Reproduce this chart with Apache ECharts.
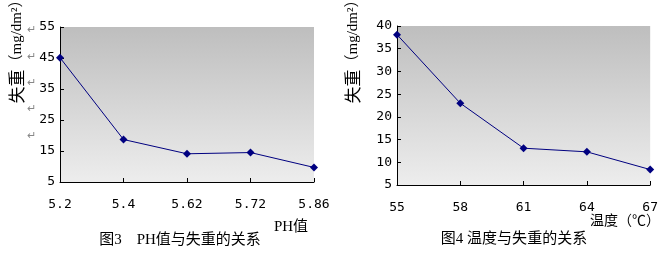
<!DOCTYPE html>
<html>
<head>
<meta charset="utf-8">
<script src="https://cdn.jsdelivr.net/npm/echarts@6/dist/echarts.min.js"></script>
<style>
html,body{margin:0;padding:0;background:#fff;}
#main{width:661px;height:253px;}
</style>
</head>
<body>
<div id="main"></div>
<script>
// Chart 1: PH vs weight loss
const phCategories = ['5.2', '5.4', '5.62', '5.72', '5.86'];
const phLoss = [45.1, 18.7, 14.1, 14.5, 9.7];
// Chart 2: temperature vs weight loss
const tempCategories = ['55', '58', '61', '64', '67'];
const tempLoss = [38.1, 23.0, 13.1, 12.3, 8.4];

const FONT = "'Liberation Serif','Noto Sans CJK SC',serif";
const NUM = "'DejaVu Sans Mono',monospace";
const CJK = "'Noto Sans CJK SC',sans-serif";

const chart = echarts.init(document.getElementById('main'));

function bg() {
  return new echarts.graphic.LinearGradient(0, 0, 0, 1, [
    {offset: 0, color: '#bebebe'},
    {offset: 1, color: '#ededed'}
  ]);
}

function xAxis(idx, cats) {
  return {
    type: 'category', gridIndex: idx, data: cats, boundaryGap: false,
    axisLine: {lineStyle: {color: '#000', width: 1}},
    axisTick: {inside: true, length: 4, lineStyle: {color: '#000'}},
    axisLabel: {color: '#000', fontFamily: NUM, fontSize: 13, margin: 16}
  };
}
function yAxis(idx, min, max, interval) {
  return {
    type: 'value', gridIndex: idx, min: min, max: max, interval: interval,
    axisLine: {show: true, lineStyle: {color: '#000', width: 1}},
    axisTick: {show: true, inside: true, length: 4, lineStyle: {color: '#000'}},
    axisLabel: {color: '#000', fontFamily: NUM, fontSize: 13, margin: 5},
    splitLine: {show: false}
  };
}

const yNameRich = {
  a: {fontFamily: CJK, fontSize: 17, color: '#000'},
  b: {fontFamily: FONT, fontSize: 15, color: '#000'}
};

const marks = [30, 57, 83, 109, 136].map(y => ({
  type: 'text', left: 27, top: y - 7,
  style: {text: '↵', fill: '#888', font: '11px ' + CJK}
}));

chart.setOption({
  animation: false,
  grid: [
    {left: 60, right: 347, top: 27, bottom: 71, show: true, backgroundColor: bg(), borderWidth: 0},
    {left: 397, right: 10, top: 26, bottom: 68, show: true, backgroundColor: bg(), borderWidth: 0}
  ],
  xAxis: [xAxis(0, phCategories), xAxis(1, tempCategories)],
  yAxis: [yAxis(0, 5, 55, 10), yAxis(1, 5, 40, 5)],
  series: [
    {type: 'line', xAxisIndex: 0, yAxisIndex: 0, data: phLoss, symbol: 'diamond', symbolSize: 8,
     lineStyle: {color: '#000080', width: 1}, itemStyle: {color: '#000080'}},
    {type: 'line', xAxisIndex: 1, yAxisIndex: 1, data: tempLoss, symbol: 'diamond', symbolSize: 8,
     lineStyle: {color: '#000080', width: 1}, itemStyle: {color: '#000080'}}
  ],
  graphic: [
    {type: 'text', x: 17, y: 48, rotation: Math.PI / 2,
     style: {text: '{a|失重}{b|（mg/dm²）}', rich: yNameRich, align: 'center', verticalAlign: 'middle'}},
    {type: 'text', x: 353, y: 48, rotation: Math.PI / 2,
     style: {text: '{a|失重}{b|（mg/dm²）}', rich: yNameRich, align: 'center', verticalAlign: 'middle'}},
    {type: 'text', x: 291, y: 227, style: {text: 'PH值', font: '15px ' + FONT, fill: '#000', align: 'center', verticalAlign: 'middle'}},
    {type: 'text', x: 625, y: 221, style: {text: '温度（℃）', font: '14px ' + FONT, fill: '#000', align: 'center', verticalAlign: 'middle'}},
    {type: 'text', x: 180, y: 240, style: {text: '图3　PH值与失重的关系', font: '15px ' + FONT, fill: '#000', align: 'center', verticalAlign: 'middle'}},
    {type: 'text', x: 514, y: 239, style: {text: '图4 温度与失重的关系', font: '15px ' + FONT, fill: '#000', align: 'center', verticalAlign: 'middle'}}
  ].concat(marks)
});
</script>
</body>
</html>
